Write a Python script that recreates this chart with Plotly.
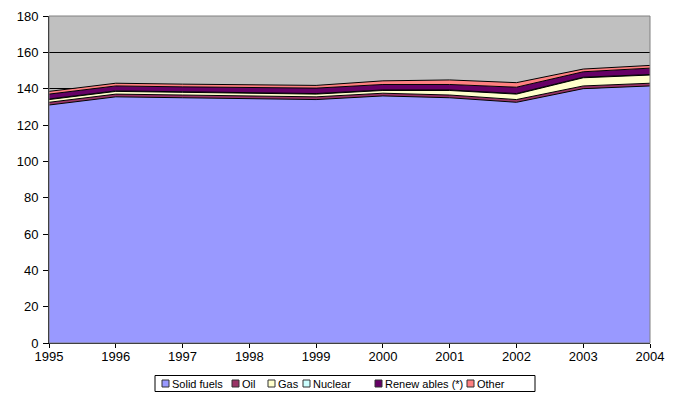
import plotly.graph_objects as go

years = [1995, 1996, 1997, 1998, 1999, 2000, 2001, 2002, 2003, 2004]
solid_fuels = [131, 135.5, 135, 134.5, 134, 136, 135, 132.5, 140, 141.5]
oil = [1.5, 1.5, 1.5, 1.5, 1.5, 1.5, 1.5, 1.5, 1.5, 1.5]
gas = [1.5, 1.5, 1.5, 1.5, 1.5, 1.5, 2.5, 3, 4.5, 4.5]
nuclear = [0.3, 0.3, 0.3, 0.3, 0.3, 0.3, 0.3, 0.3, 0.3, 0.3]
renewables = [2.7, 2.7, 2.7, 3, 3, 3, 3, 3.5, 3, 3.5]
other = [1.5, 1.5, 1.5, 1.5, 1.5, 2, 2.5, 2.5, 1.5, 1.5]

names = ["Solid fuels", "Oil", "Gas", "Nuclear", "Renew ables (*)", "Other"]
values = [solid_fuels, oil, gas, nuclear, renewables, other]
colors = ["#9999FF", "#993366", "#FFFFCC", "#CCFFFF", "#660066", "#FF8080"]

fig = go.Figure()
for name, vals, col in zip(names, values, colors):
    fig.add_trace(go.Scatter(
        x=years, y=vals, name=name, mode="lines", stackgroup="one",
        fillcolor=col, line=dict(color="black", width=1), showlegend=False,
    ))

W, H = 673, 388
L, R, T, B = 41, 31, 8, 53
fig.update_layout(
    width=W, height=H,
    margin=dict(l=L, r=R, t=T, b=B),
    paper_bgcolor="white", plot_bgcolor="#C0C0C0",
    font=dict(family="Liberation Sans, Arial, sans-serif", size=13, color="black"),
    showlegend=False,
    xaxis=dict(range=[1995, 2004], tickmode="array", tickvals=years,
               showgrid=False, ticks="outside", ticklen=4, tickcolor="black",
               showline=True, linecolor="black", linewidth=1, zeroline=False,
               automargin=False, ticklabelstandoff=-3),
    yaxis=dict(range=[0, 180], dtick=20, showgrid=True, gridcolor="black",
               gridwidth=1, ticks="outside", ticklen=5, tickcolor="black",
               showline=True, linecolor="black", linewidth=1, zeroline=False,
               automargin=False, ticklabelstandoff=2),
)
fig.add_shape(type="rect", xref="paper", yref="paper", x0=0, x1=1, y0=0, y1=1,
              line=dict(color="#808080", width=1), layer="above")

# manual legend (screen px -> paper coords; page has 8px body margin)
pw = W - L - R
ph = H - T - B
def px(sx):
    return (sx - 8 - L) / pw
def py(sy):
    return (H - B + 8 - sy) / ph

fig.add_shape(type="rect", xref="paper", yref="paper",
              x0=px(155), x1=px(535), y0=py(375.5), y1=py(391.5),
              line=dict(color="black", width=1), fillcolor="white")
sq_left = [162, 232, 268, 303, 375, 467]
txt_left = [171, 241, 277, 312, 384, 476]
cy = 383.5
for name, col, sl, tl in zip(names, colors, sq_left, txt_left):
    fig.add_shape(type="rect", xref="paper", yref="paper",
                  x0=px(sl), x1=px(sl + 7), y0=py(cy + 3.5), y1=py(cy - 3.5),
                  line=dict(color="#333333", width=1), fillcolor=col)
    fig.add_annotation(text=name, xref="paper", yref="paper", x=px(tl), y=py(cy),
                       xanchor="left", yanchor="middle", showarrow=False,
                       font=dict(size=11), borderpad=0)

fig.write_html("out.html")
